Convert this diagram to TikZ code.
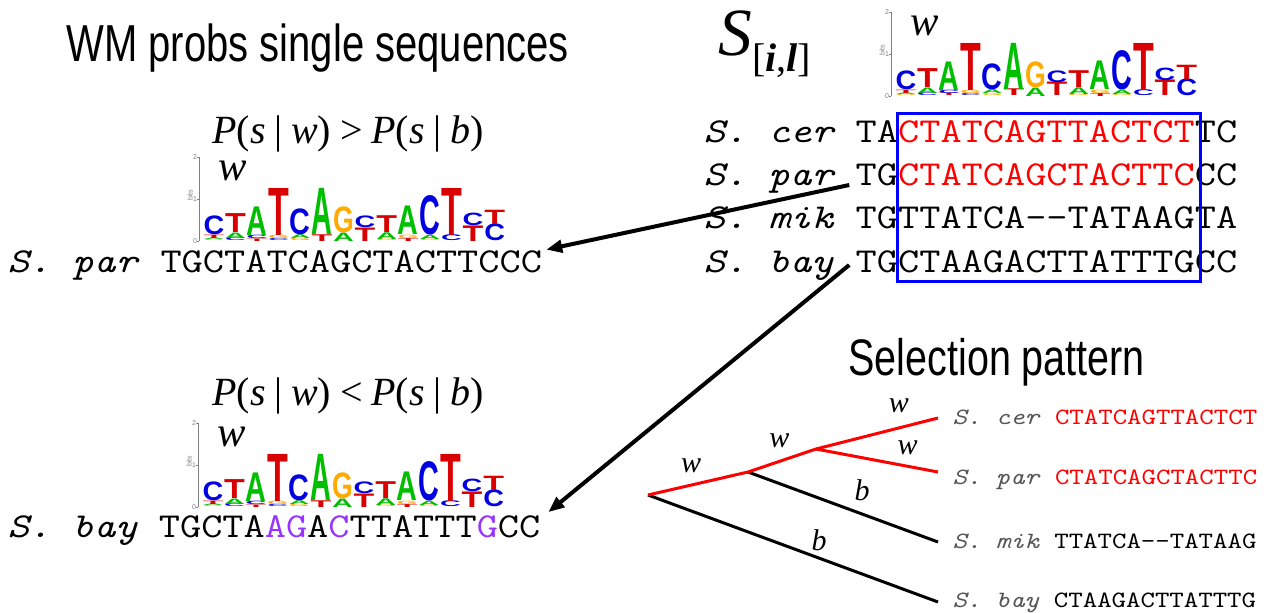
\documentclass[tikz,border=0pt]{standalone}
\usepackage{fontspec}
\setmainfont{Liberation Serif}
\setsansfont{Liberation Sans}
\setmonofont{Latin Modern Mono}
\usepackage{graphicx}
\usetikzlibrary{positioning,arrows.meta,calc}
\definecolor{motif}{HTML}{FF0000}
\definecolor{boxblue}{HTML}{0000FF}
\definecolor{subst}{HTML}{9933FF}
\definecolor{logoA}{HTML}{00BE00}
\definecolor{logoC}{HTML}{0000E0}
\definecolor{logoG}{HTML}{FFAA00}
\definecolor{logoT}{HTML}{D80000}
\definecolor{leafsp}{HTML}{555555}
\definecolor{axisgray}{HTML}{808080}
\newcommand\stretchy[1]{\scalebox{1}[1.3]{#1}}
\newcommand\squashed[1]{\scalebox{1}[0.85]{#1}}
\newcommand\gap{\hspace{0.22em}}
\newcommand\chw{8.64pt}
\tikzset{
  heading/.style={font=\sffamily\fontsize{#1}{#1}\selectfont, anchor=base west, inner sep=0pt},
  heading/.default=16,
  formula/.style={font=\fontsize{16}{16}\selectfont, anchor=base, inner sep=0pt},
  sp/.style={font=\ttfamily\itshape\fontsize{16.46}{16.46}\selectfont, anchor=base west, inner sep=0pt},
  seq/.style={font=\ttfamily\fontsize{16.46}{16.46}\selectfont, anchor=base west, inner sep=0pt},
  leaf/.style={font=\ttfamily\fontsize{11}{11}\selectfont, anchor=base west, inner sep=0pt},
  pointer/.style={-{Triangle[length=6.4pt,width=5pt]}, line width=1.6pt},
  motifbox/.style={draw=boxblue, line width=1.2pt},
  wbranch/.style={draw=motif, line width=1.2pt},
  bbranch/.style={draw=black, line width=1.2pt},
  brlab/.style={font=\fontsize{12}{12}\selectfont\itshape, inner sep=0pt},
  logoletter/.style={text=#1, font=\sffamily\bfseries, inner sep=0pt, outer sep=0pt, anchor=south west},
  logoaxis/.style={draw=axisgray, line width=0.3pt},
  ticklab/.style={font=\sffamily\fontsize{2.8}{2.8}\selectfont, text=axisgray, inner sep=0pt},
  logow/.style={font=\fontsize{17}{17}\selectfont\itshape, inner sep=0pt},
}
\tikzset{
  wlogo/.pic={
    \draw[logoaxis] (-4,0) -- (-4,-84);
    \foreach \tk in {0,1,2} {
      \draw[logoaxis] (-4,-42*\tk) -- (-6,-42*\tk);
      \node[ticklab] (tick\tk) at (-8,-42*\tk) {\tk};
    }
    \node[ticklab, rotate=90] (bits) at (-13,-46) {bits};
    \node[logow] (w) at (30,-70) {w};
    \foreach \stack [count=\ci] in {{G/0.03,A/0.04,T/0.08,C/0.45},{C/0.07,A/0.13,T/0.45},
        {T/0.06,C/0.08,A/0.68},{C/0.05,G/0.08,T/1.12},{G/0.05,A/0.09,C/0.62},
        {T/0.16,A/1.1},{A/0.2,G/0.62},{T/0.32,C/0.28},{G/0.04,A/0.16,T/0.4},
        {T/0.07,G/0.08,A/0.68},{G/0.04,A/0.1,C/0.94},{C/0.14,T/1.12},
        {T/0.37,C/0.3},{C/0.4,T/0.34}} {
      \foreach \ltr/\h [evaluate=\h as \htop using \hbase+\h,
                        remember=\htop as \hbase (initially 0)] in \stack {
        \pgfmathsetmacro\hpt{\h*16.8}
        \node[logoletter=logo\ltr] (c\ci\ltr) at ({(\ci-1)*21.6+0.5},{-42*\hbase})
          {\resizebox*{8.3pt}{\hpt pt}{\ltr}};
      }
    }
  }
}

\begin{document}
\begin{tikzpicture}[x=0.4pt,y=-0.4pt]
  \useasboundingbox (0,0) rectangle (1267,613);
  % headings
  \node[heading] (title) at (66,62) {\stretchy{WM probs single sequences}};
  \node[heading=15.8] (selection) at (848,375) {\stretchy{Selection pattern}};
  \node[font=\fontsize{27}{27}\selectfont, anchor=base west, inner sep=0pt] (window) at (718,55)
    {\textit{S}\raisebox{-6.5pt}{\fontsize{16}{16}\selectfont[\textbf{\textit{i}},\textbf{\textit{l}}]}};

  % alignment
  \node[sp] (rcersp) at (703,142) {\squashed{S. cer}};
  \node[seq, base right=\chw of rcersp] (rcerseq) {\squashed{TA\textcolor{motif}{CTATCAGTTACTCT}TC}};
  \node[sp] (rparsp) at (703,185) {\squashed{S. par}};
  \node[seq, base right=\chw of rparsp] (rparseq) {\squashed{TG\textcolor{motif}{CTATCAGCTACTTC}CC}};
  \node[sp] (rmiksp) at (703,228) {\squashed{S. mik}};
  \node[seq, base right=\chw of rmiksp] (rmikseq) {\squashed{TGTTATCA--TATAAGTA}};
  \node[sp] (rbaysp) at (703,272) {\squashed{S. bay}};
  \node[seq, base right=\chw of rbaysp] (rbayseq) {\squashed{TGCTAAGACTTATTTGCC}};
  \draw[motifbox] (897,113) rectangle (1200,281);
  \pic (toplogo) at (895,96) {wlogo};

  % single sequences
  \node[formula] (gtform) at (348,143)
    {\textit{P}(\textit{s}\gap|\gap\textit{w})\gap>\gap\textit{P}(\textit{s}\gap|\gap\textit{b})};
  \pic (parlogo) at (203,241) {wlogo};
  \node[seq] (lpar) at (7,272) {\squashed{\textit{S. par} TGCTATCAGCTACTTCCC}};
  \node[formula] (ltform) at (348,405)
    {\textit{P}(\textit{s}\gap|\gap\textit{w})\gap<\gap\textit{P}(\textit{s}\gap|\gap\textit{b})};
  \pic (baylogo) at (202,507) {wlogo};
  \node[seq] (lbay) at (7,537) {\squashed{\textit{S. bay} TGCTA\textcolor{subst}{AG}A\textcolor{subst}{C}TTATTT\textcolor{subst}{G}CC}};

  \coordinate (a1) at ([xshift=-2.4pt]rparseq.base west);
  \coordinate (a2) at ([xshift=-2.4pt,yshift=2.8pt]rbayseq.base west);
  \draw[pointer] (a1) -- ([xshift=1.5pt]lpar.north east);
  \draw[pointer] (a2) -- ([xshift=3pt,yshift=1pt]lbay.north east);

  % tree
  \node[leaf] (lcer) at (952,424) {\squashed{\textcolor{leafsp}{\textit{S. cer}} \textcolor{motif}{CTATCAGTTACTCT}}};
  \node[leaf] (lparleaf) at (952,484) {\squashed{\textcolor{leafsp}{\textit{S. par}} \textcolor{motif}{CTATCAGCTACTTC}}};
  \node[leaf] (lmik) at (952,548) {\squashed{\textcolor{leafsp}{\textit{S. mik}} TTATCA--TATAAG}};
  \node[leaf] (lbayleaf) at (952,607) {\squashed{\textcolor{leafsp}{\textit{S. bay}} CTAAGACTTATTTG}};
  \coordinate (root) at (648,495);
  \coordinate (n1) at (748,472);
  \coordinate (n2) at (816,449);
  \coordinate (tcer) at (938,418);
  \coordinate (tpar) at (938,472);
  \coordinate (tmik) at (938,542);
  \coordinate (tbay) at (938,602);
  \draw[bbranch] (n1) -- node[brlab, pos=0.6, above=4.6pt] (bmik) {b} (tmik);
  \draw[bbranch] (root) -- node[brlab, pos=0.59, above=2.5pt] (bbay) {b} (tbay);
  \draw[wbranch] (root) -- node[brlab, pos=0.43, above=4.4pt] (wroot) {w} (n1)
    -- node[brlab, pos=0.46, above=5pt] (wn1) {w} (n2)
    -- node[brlab, pos=0.68, above=5.3pt] (wcer) {w} (tcer);
  \draw[wbranch] (n2) -- node[brlab, pos=0.75, above=4pt] (wpar) {w} (tpar);
\end{tikzpicture}
\end{document}
